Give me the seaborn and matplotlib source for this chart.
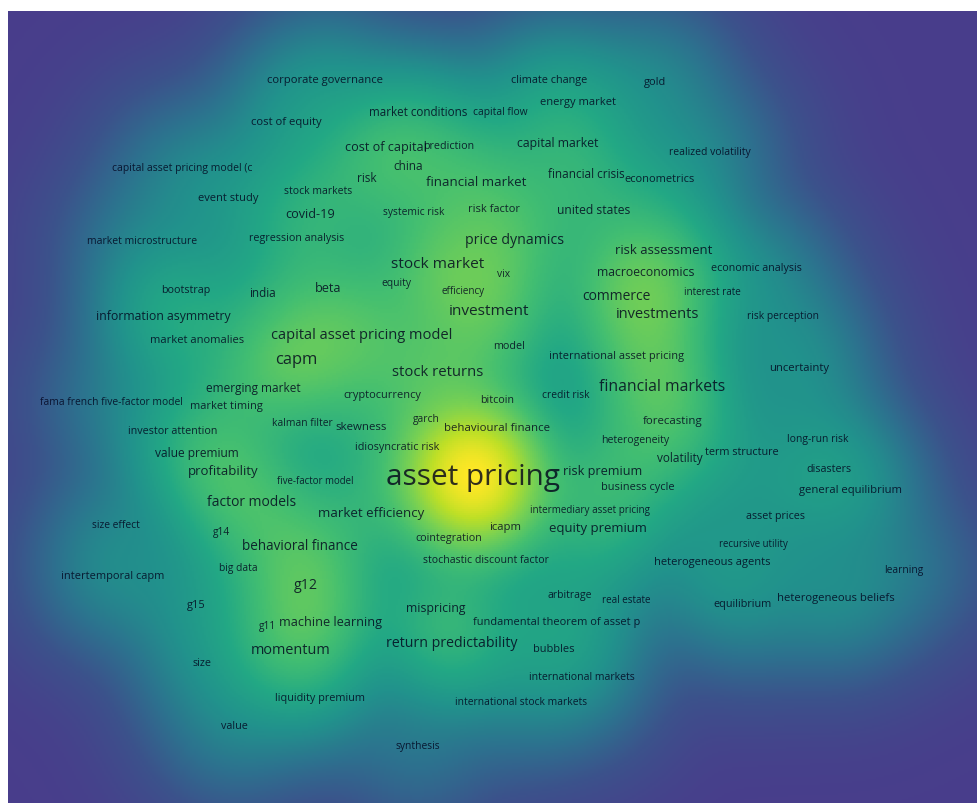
import numpy as np
import matplotlib
matplotlib.use("Agg")
import matplotlib.pyplot as plt
from matplotlib.colors import LinearSegmentedColormap, PowerNorm
import seaborn as sns

sns.set_theme(style="white")
plt.rcParams["font.family"] = ["Open Sans", "DejaVu Sans"]

# Keyword co-occurrence map: term labels, map coordinates and occurrences
terms = [
    "corporate governance", "climate change", "gold", "cost of equity",
    "market conditions", "capital flow", "energy market",
    "capital asset pricing model (c", "event study", "stock markets",
    "covid-19", "regression analysis", "market microstructure",
    "cost of capital", "prediction", "capital market", "china", "risk",
    "financial market", "financial crisis", "econometrics",
    "realized volatility", "systemic risk", "risk factor", "united states",
    "price dynamics", "risk assessment", "stock market", "macroeconomics",
    "economic analysis", "vix", "equity", "beta", "efficiency", "commerce",
    "interest rate", "bootstrap", "india", "investment", "investments",
    "risk perception", "information asymmetry",
    "capital asset pricing model", "market anomalies", "capm", "model",
    "international asset pricing", "stock returns", "uncertainty",
    "financial markets", "emerging market", "fama french five-factor model",
    "market timing", "cryptocurrency", "bitcoin", "credit risk",
    "investor attention", "kalman filter", "skewness", "garch",
    "behavioural finance", "forecasting", "heterogeneity", "volatility",
    "term structure", "long-run risk", "idiosyncratic risk", "value premium",
    "profitability", "five-factor model", "asset pricing", "risk premium",
    "disasters", "business cycle", "general equilibrium", "factor models",
    "market efficiency", "intermediary asset pricing", "asset prices",
    "icapm", "equity premium", "size effect", "g14", "cointegration",
    "behavioral finance", "stochastic discount factor", "recursive utility",
    "heterogeneous agents", "learning", "intertemporal capm", "big data",
    "g12", "g15", "arbitrage", "real estate", "equilibrium",
    "heterogeneous beliefs", "mispricing", "g11", "machine learning",
    "fundamental theorem of asset p", "return predictability", "bubbles",
    "momentum", "size", "international markets", "liquidity premium",
    "international stock markets", "value", "synthesis",
]

term_x = [
    325, 549, 655, 286, 418, 500, 578, 182, 228, 318,
    310, 297, 142, 386, 449, 558, 408, 367, 476, 586,
    660, 710, 414, 494, 594, 515, 664, 438, 646, 756,
    504, 396, 328, 463, 616, 712, 186, 263, 489, 658,
    783, 163, 362, 197, 296, 509, 617, 438, 799, 662,
    253, 111, 226, 382, 497, 566, 173, 302, 361, 426,
    497, 673, 635, 680, 742, 818, 397, 197, 223, 315,
    473, 603, 829, 638, 851, 252, 371, 590, 776, 505,
    598, 116, 222, 449, 300, 486, 753, 712, 904, 113,
    238, 306, 196, 570, 626, 743, 836, 436, 268, 331,
    557, 452, 554, 291, 202, 582, 320, 521, 234, 418,
]

term_y = [
    80, 80, 82, 122, 113, 113, 103, 169, 199, 191,
    214, 238, 242, 148, 146, 144, 167, 178, 182, 175,
    179, 153, 213, 209, 211, 241, 250, 265, 273, 268,
    275, 284, 289, 292, 297, 293, 291, 294, 312, 315,
    317, 317, 336, 341, 360, 347, 357, 373, 369, 387,
    389, 403, 407, 396, 401, 396, 432, 424, 428, 420,
    429, 422, 441, 459, 453, 440, 448, 454, 472, 482,
    478, 472, 470, 488, 491, 503, 513, 511, 517, 528,
    529, 526, 533, 539, 547, 561, 545, 563, 571, 577,
    569, 586, 606, 596, 601, 605, 599, 609, 627, 623,
    623, 644, 650, 651, 664, 678, 699, 703, 727, 747,
]

occurrences = [
    13, 10, 11, 13, 15, 6, 12, 7, 12, 7,
    23, 9, 7, 23, 9, 20, 16, 16, 29, 16,
    11, 7, 6, 11, 19, 36, 27, 49, 20, 9,
    6, 6, 23, 4, 34, 4, 9, 16, 49, 41,
    6, 20, 41, 12, 60, 9, 11, 44, 13, 52,
    16, 6, 11, 11, 9, 6, 9, 6, 14, 6,
    14, 14, 8, 16, 10, 7, 10, 18, 27, 3,
    230, 23, 9, 11, 13, 34, 29, 4, 9, 13,
    27, 6, 6, 9, 31, 8, 3, 12, 6, 11,
    6, 36, 11, 7, 4, 10, 13, 20, 6, 23,
    11, 36, 11, 39, 9, 8, 10, 6, 9, 6,
]

# Map window and density grid
x0, x1, y0, y1 = 8, 978, 12, 804
cell = 2.0
nx = int((x1 - x0) / cell)
ny = int((y1 - y0) / cell)
gx = x0 + (np.arange(nx) + 0.5) * cell
gy = y0 + (np.arange(ny) + 0.5) * cell
GX, GY = np.meshgrid(gx, gy)

kernel_width = 44.0
density = np.zeros_like(GX)
for xi, yi, wi in zip(term_x, term_y, occurrences):
    density += wi * np.exp(-((GX - xi) ** 2 + (GY - yi) ** 2) / (2 * kernel_width ** 2))

density_cmap = LinearSegmentedColormap.from_list(
    "density",
    [(72/255, 61/255, 139/255), (59/255, 82/255, 139/255), (44/255, 114/255, 142/255),
     (33/255, 145/255, 140/255), (34/255, 168/255, 132/255), (68/255, 191/255, 112/255),
     (122/255, 209/255, 81/255), (189/255, 223/255, 38/255), (253/255, 231/255, 37/255)],
)

fig = plt.figure(figsize=(9.78, 8.04), dpi=100)
fig.patch.set_facecolor("white")
ax = fig.add_axes([x0 / 978, 0, (x1 - x0) / 978, (y1 - y0) / 804])

sns.heatmap(
    density, ax=ax, cmap=density_cmap,
    norm=PowerNorm(gamma=0.38, vmin=0, vmax=density.max()),
    cbar=False, xticklabels=False, yticklabels=False, rasterized=True,
)

for term, xi, yi, wi in zip(terms, term_x, term_y, occurrences):
    ax.text((xi - x0) / cell, (yi - y0) / cell, term,
            ha="center", va="center", fontsize=6.4 + 0.254 * wi ** 0.75,
            color="#00001a", alpha=0.8)

ax.set_xlabel("")
ax.set_ylabel("")
fig.savefig("out.png", dpi=100, facecolor="white")
